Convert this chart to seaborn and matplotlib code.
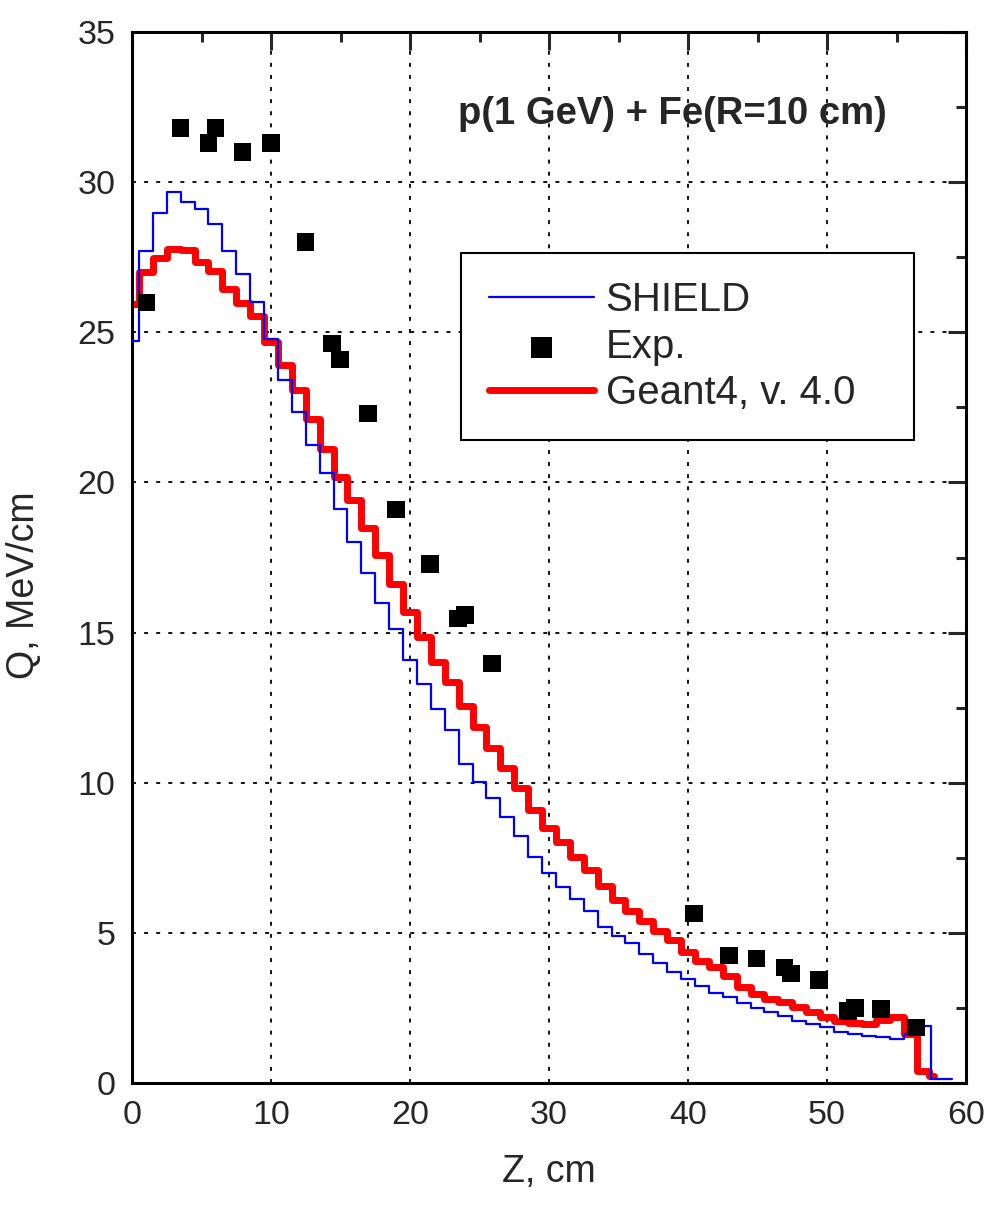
import numpy as np
import pandas as pd
import matplotlib
matplotlib.use("Agg")
import matplotlib.pyplot as plt
import seaborn as sns
from matplotlib.ticker import MultipleLocator

# ---- data ----
z_shield = list(range(0, 59)) + [59]
q_shield = [24.7, 27.7, 28.97, 29.67, 29.33, 29.1, 28.6, 27.7, 26.94, 26.0,
            24.77, 23.41, 22.33, 21.24, 20.32, 19.1, 18.02, 16.99, 15.99, 15.13,
            14.1, 13.28, 12.46, 11.74, 10.61, 10.02, 9.49, 8.85, 8.22, 7.52,
            6.98, 6.54, 6.14, 5.74, 5.21, 4.91, 4.65, 4.3, 3.99, 3.69,
            3.47, 3.24, 3.0, 2.85, 2.65, 2.5, 2.35, 2.24, 2.08, 1.97,
            1.85, 1.71, 1.63, 1.58, 1.52, 1.47, 1.63, 1.91, 0.12, 0.12]

z_geant = list(range(0, 58)) + [57.7]
q_geant = [25.93, 27.02, 27.47, 27.78, 27.75, 27.35, 27.05, 26.43, 25.97, 25.55,
           24.69, 23.9, 23.09, 22.12, 21.13, 20.19, 19.41, 18.47, 17.58, 16.61,
           15.68, 14.85, 14.03, 13.35, 12.54, 11.85, 11.15, 10.49, 9.82, 9.1,
           8.5, 8.02, 7.53, 7.09, 6.55, 6.1, 5.72, 5.41, 5.05, 4.75,
           4.35, 4.05, 3.85, 3.58, 3.19, 2.97, 2.8, 2.69, 2.54, 2.35,
           2.19, 2.08, 1.99, 1.97, 2.1, 2.19, 1.63, 0.41, 0.24]

z_exp = [1.05, 3.5, 5.5, 6.0, 7.96, 10.0, 12.47, 14.37, 14.96, 16.96, 18.97,
         21.44, 23.43, 23.96, 25.88, 40.43, 42.95, 44.94, 46.93, 47.39, 49.42,
         51.5, 52.0, 53.9, 56.4]
q_exp = [26.0, 31.8, 31.3, 31.8, 31.0, 31.3, 28.0, 24.63, 24.1, 22.3, 19.1,
         17.28, 15.47, 15.58, 13.97, 5.65, 4.24, 4.15, 3.85, 3.65, 3.44,
         2.4, 2.5, 2.47, 1.85]

x_ticks = [0, 10, 20, 30, 40, 50, 60]
y_ticks = [0, 5, 10, 15, 20, 25, 30, 35]

title_text = "p(1 GeV) + Fe(R=10 cm)"
xlabel = "Z, cm"
ylabel = "Q, MeV/cm"

# ---- plot ----
sns.set_style("white")
plt.rcParams['font.family'] = ['Liberation Sans', 'DejaVu Sans']

fig = plt.figure(figsize=(9.89, 12.09), dpi=100)
ax = fig.add_axes([0.1335, 0.1042, 0.8433, 0.8693])

df_s = pd.DataFrame({"z": z_shield, "q": q_shield})
df_g = pd.DataFrame({"z": z_geant, "q": q_geant})
df_e = pd.DataFrame({"z": z_exp, "q": q_exp})

sns.lineplot(data=df_s, x="z", y="q", ax=ax, color="#0000ff", lw=1.6,
             drawstyle="steps-mid", label="SHIELD", sort=False, estimator=None, zorder=3)
sns.lineplot(data=df_g, x="z", y="q", ax=ax, color="#ff0000", lw=5.0,
             drawstyle="steps-mid", label="Geant4, v. 4.0", sort=False, estimator=None,
             zorder=2)
sns.scatterplot(data=df_e, x="z", y="q", ax=ax, marker="s", s=160, color="black",
                edgecolor="none", label="Exp.", zorder=4)

ax.set_xlim(0, 60)
ax.set_ylim(0, 35)
ax.set_xticks(x_ticks)
ax.set_yticks(y_ticks)
ax.xaxis.set_minor_locator(MultipleLocator(5))
ax.yaxis.set_minor_locator(MultipleLocator(2.5))
ax.tick_params(which="major", direction="in", length=13, width=2.2,
               top=True, right=True, labelsize=24.5, pad=12)
ax.tick_params(which="minor", direction="in", length=7, width=2.2,
               top=True, right=True)
ax.grid(True, which="major", color="black", linestyle=(0, (2.2, 4.5)), lw=1.3)
for sp in ax.spines.values():
    sp.set_linewidth(2.2)
    sp.set_color("black")

ax.set_xlabel(xlabel, fontsize=27)
ax.set_ylabel(ylabel, fontsize=27)
ax.xaxis.set_label_coords(0.5, -0.068)
ax.yaxis.set_label_coords(-0.108, 0.474)

ax.text(0.905, 0.922, title_text, transform=ax.transAxes, ha="right", va="center",
        fontsize=27.5, fontweight="bold")

handles, labels = ax.get_legend_handles_labels()
order = [labels.index("SHIELD"), labels.index("Exp."), labels.index("Geant4, v. 4.0")]
leg = ax.legend([handles[i] for i in order], [labels[i] for i in order],
                loc="upper left", bbox_to_anchor=(0.395, 0.7894, 0.542, 0.0),
                mode="expand", fontsize=29,
                frameon=True, fancybox=False, edgecolor="black", framealpha=1,
                handlelength=2.6, handletextpad=0.3, borderpad=0.68,
                labelspacing=0.22, borderaxespad=0, markerscale=1.2)
leg.get_frame().set_linewidth(1.5)
leg.set_zorder(5)

fig.savefig("out.png", dpi=100)
